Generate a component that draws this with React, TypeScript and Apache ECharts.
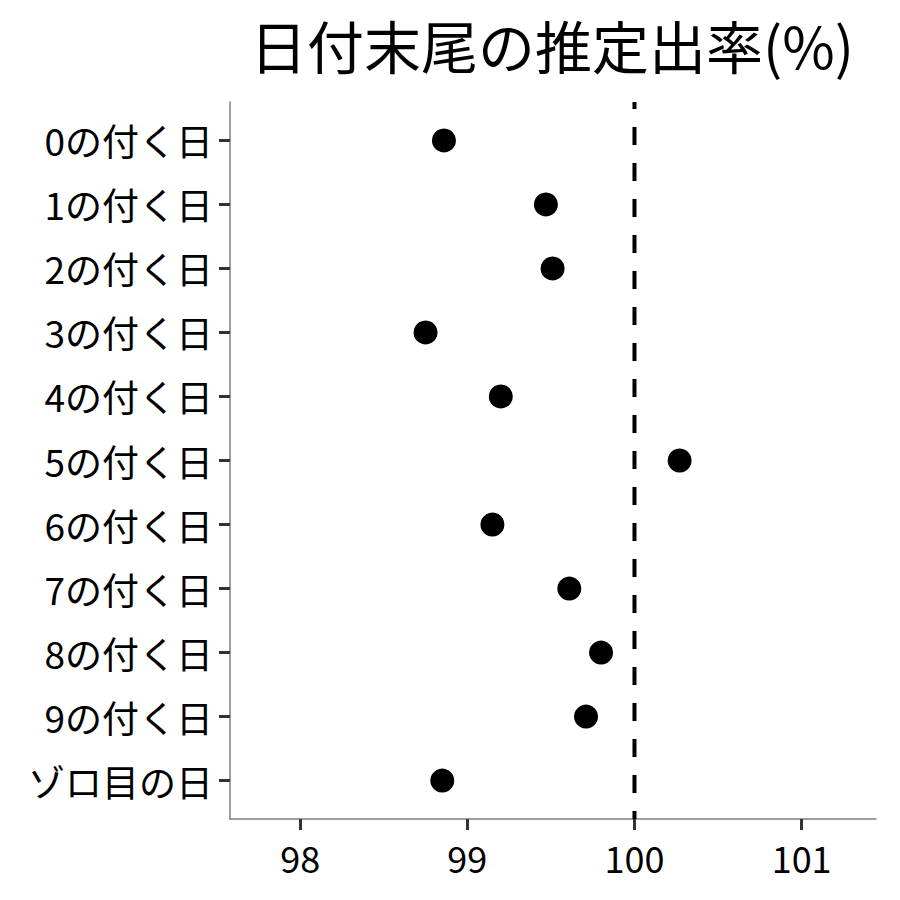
import React, { useEffect, useRef } from "react";
import * as echarts from "echarts";

const categories = [
  "0の付く日", "1の付く日", "2の付く日", "3の付く日", "4の付く日",
  "5の付く日", "6の付く日", "7の付く日", "8の付く日", "9の付く日", "ゾロ目の日",
];
const rates = [98.86, 99.47, 99.51, 98.75, 99.2, 100.27, 99.15, 99.61, 99.8, 99.71, 98.85];
const xTicks = [98, 99, 100, 101];
const refValue = 100;
const titleText = "日付末尾の推定出率(%)";

const FONT = "'Noto Sans CJK JP', 'Noto Sans', sans-serif";

export default function App() {
  const ref = useRef<HTMLDivElement>(null);
  useEffect(() => {
    if (!ref.current) return;
    const chart = echarts.init(ref.current, undefined, { renderer: "svg" });
    const yPos = categories.map((_, i) => i + 1);
    chart.setOption({
      animation: false,
      backgroundColor: "#ffffff",
      graphic: [
        {
          type: "text",
          x: 552,
          y: 44,
          style: {
            text: titleText,
            font: `57px ${FONT}`,
            fill: "#000",
            textAlign: "center",
            textVerticalAlign: "middle",
          },
        },
      ],
      grid: { left: 230, right: 24, top: 102, bottom: 81, containLabel: false },
      xAxis: {
        type: "value",
        min: 97.58,
        max: 101.445,
        splitLine: { show: false },
        axisLine: { show: true, lineStyle: { color: "#7f7f7f", width: 1.5 } },
        axisTick: { show: true, customValues: xTicks, length: 11, lineStyle: { color: "#333", width: 3 } },
        axisLabel: {
          customValues: xTicks,
          margin: 20,
          color: "#000",
          fontSize: 36,
          fontFamily: FONT,
          formatter: (v: number) => String(v),
        },
      },
      yAxis: {
        type: "value",
        inverse: true,
        min: 0.4,
        max: 11.6,
        splitLine: { show: false },
        axisLine: { show: true, lineStyle: { color: "#7f7f7f", width: 1.5 } },
        axisTick: { show: true, customValues: yPos, length: 11, lineStyle: { color: "#333", width: 3 } },
        axisLabel: {
          customValues: yPos,
          margin: 17,
          color: "#000",
          fontSize: 37,
          fontFamily: FONT,
          formatter: (v: number) => categories[Math.round(v) - 1] ?? "",
        },
      },
      series: [
        {
          type: "line",
          data: [[refValue, 0.4], [refValue, 11.6]],
          symbol: "none",
          lineStyle: { color: "#000", width: 4, type: [18, 18], dashOffset: 11 },
          silent: true,
          z: 1,
        },
        {
          type: "scatter",
          data: rates.map((r, i) => [r, i + 1]),
          symbolSize: 24,
          itemStyle: { color: "#000", opacity: 1 },
          z: 2,
        },
      ],
    });
    return () => chart.dispose();
  }, []);
  return <div ref={ref} style={{ position: "fixed", left: 0, top: 0, width: 900, height: 900 }} />;
}
